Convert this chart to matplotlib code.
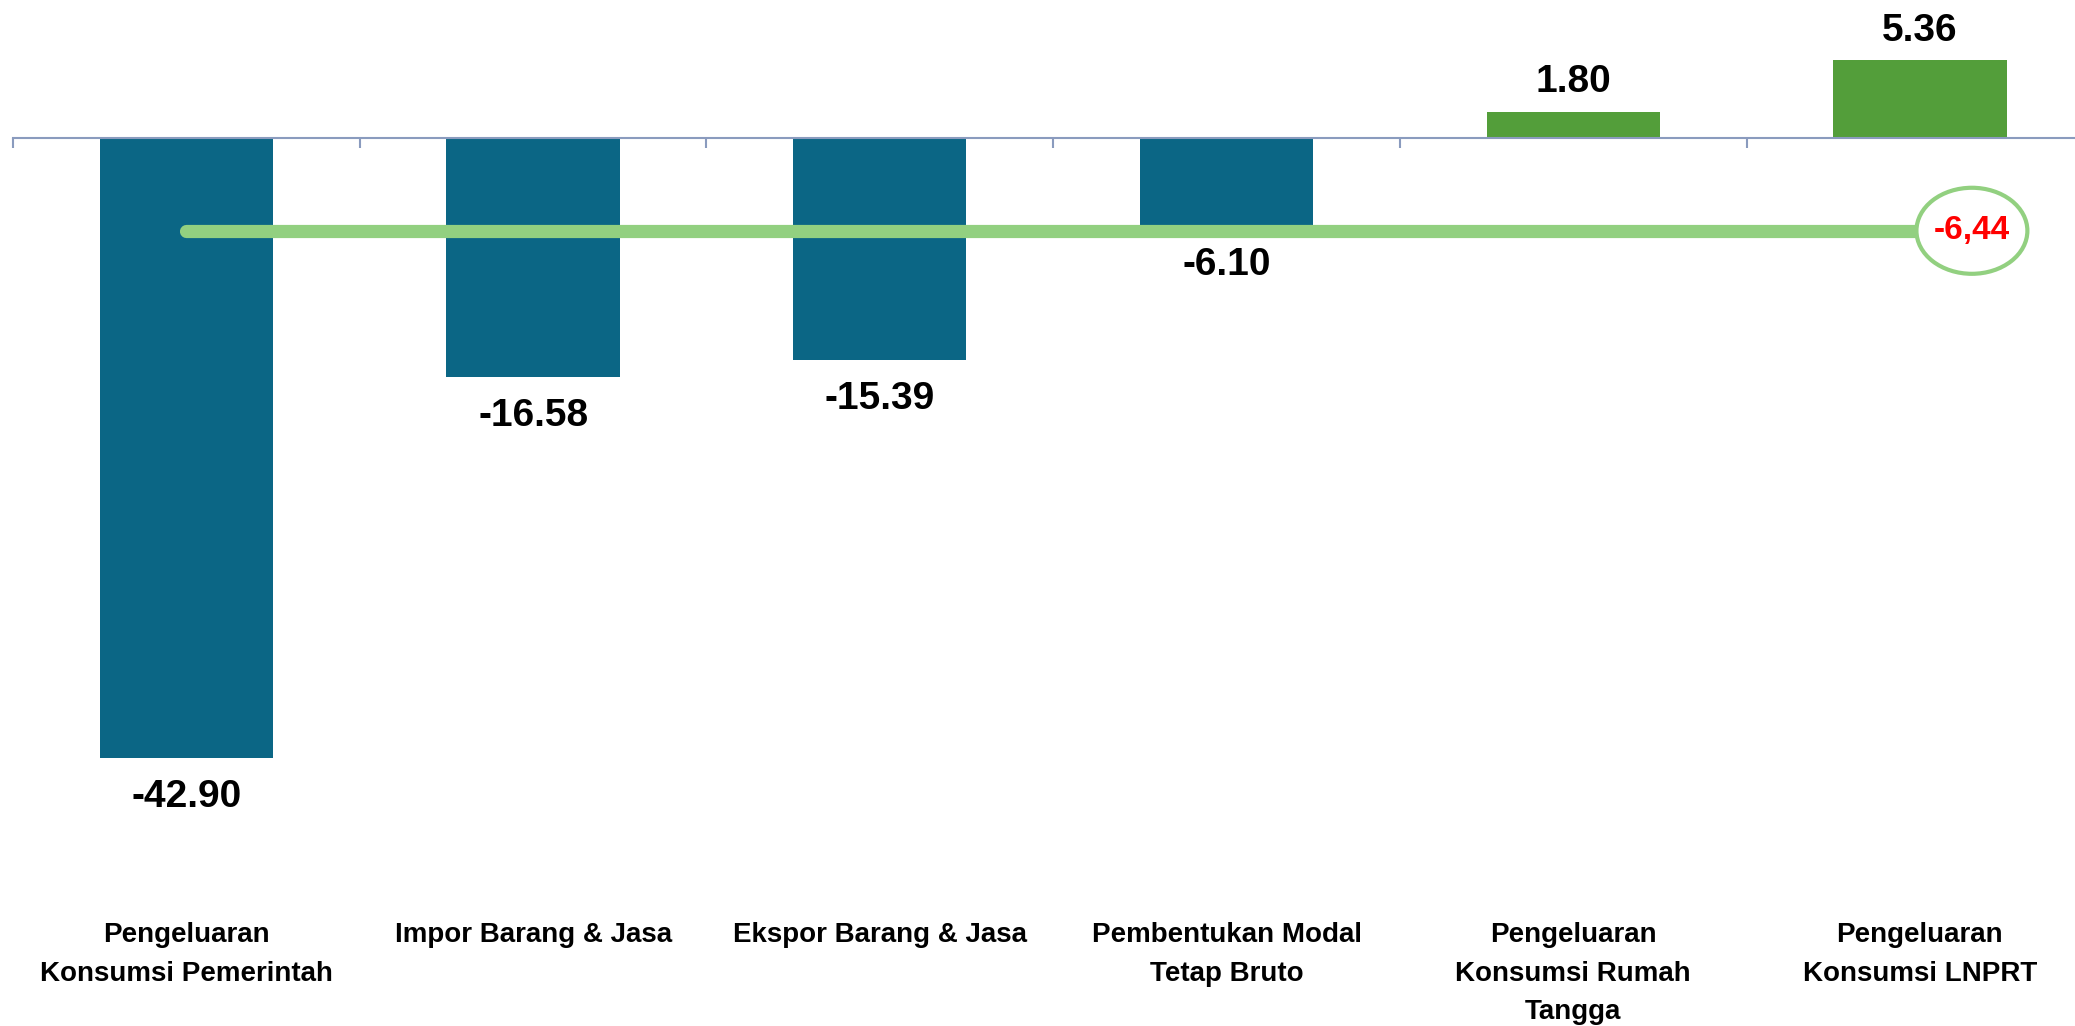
import matplotlib.pyplot as plt
from matplotlib.patches import Ellipse
from matplotlib.transforms import blended_transform_factory

# data
categories = ["Pengeluaran\nKonsumsi Pemerintah", "Impor Barang & Jasa",
              "Ekspor Barang & Jasa", "Pembentukan Modal\nTetap Bruto",
              "Pengeluaran\nKonsumsi Rumah\nTangga", "Pengeluaran\nKonsumsi LNPRT"]
values = [-42.90, -16.58, -15.39, -6.10, 1.80, 5.36]
avg_value = -6.44
avg_label = "-6,44"

BLUE = '#0B6685'
GREEN = '#539E3A'
LINE_GREEN = '#92D080'
AXIS_COL = '#8A9BBE'

plt.rcParams['font.family'] = ['Liberation Sans', 'DejaVu Sans']

fig = plt.figure(figsize=(20.75, 10.26), dpi=100)
ax = fig.add_axes([0.0063, 0.15, 1.0025, 0.85])

x = list(range(len(values)))
colors = [BLUE if v < 0 else GREEN for v in values]
ax.bar(x, values, width=0.5, color=colors, zorder=1)

# average line + circled label
ax.plot([x[0], x[-1]], [avg_value, avg_value], color=LINE_GREEN, lw=9.5,
        solid_capstyle='round', zorder=3)
circ = Ellipse((x[-1] + 0.15, avg_value), width=0.32, height=5.95,
               facecolor='white', edgecolor=LINE_GREEN, lw=3, zorder=4)
ax.add_patch(circ)
ax.text(x[-1] + 0.15, avg_value, avg_label, color='#FF0000', fontsize=24,
        fontweight='bold', ha='center', va='center', zorder=5)

# value labels
for i, v in enumerate(values):
    off = 21 if v > 0 else -28
    ax.annotate(f"{v:.2f}", (i, v), xytext=(0, off), textcoords='offset points',
                ha='center', va='center', fontsize=28, fontweight='bold',
                color='black', zorder=5)

ax.set_xlim(-0.5, 5.5)
ax.set_ylim(-50.79, 9.52)

for s in ['top', 'right', 'left']:
    ax.spines[s].set_visible(False)
ax.spines['bottom'].set_position(('data', 0))
ax.spines['bottom'].set_color(AXIS_COL)
ax.spines['bottom'].set_linewidth(1.5)
ax.spines['bottom'].set_zorder(2)
ax.set_yticks([])
ax.set_xticks([i - 0.5 for i in range(len(values) + 1)])
ax.tick_params(axis='x', direction='out', length=7.5, width=1.5,
               color=AXIS_COL, labelbottom=False)

# category labels at the bottom of the figure
trans = blended_transform_factory(ax.transData, fig.transFigure)
for i, c in enumerate(categories):
    ax.text(i, 0.101, c, transform=trans, ha='center', va='top',
            fontsize=20, fontweight='bold', linespacing=1.62, color='black')

fig.savefig('out.png', dpi=100)
